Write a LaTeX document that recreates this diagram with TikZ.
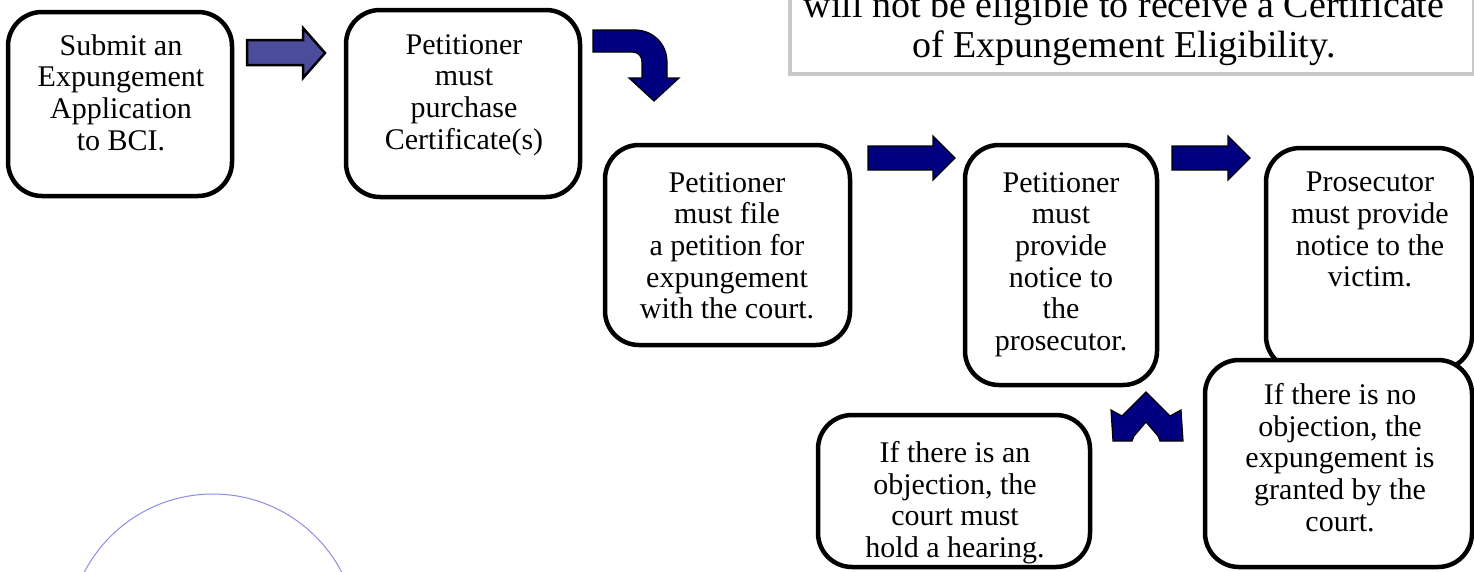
\documentclass[tikz,border=0pt]{standalone}
\usepackage{fontspec}
\setmainfont{Liberation Serif}
\definecolor{navyblk}{RGB}{0,0,128}
\definecolor{slateblk}{RGB}{76,76,156}
\definecolor{ringcol}{RGB}{140,140,232}
\definecolor{notegray}{RGB}{200,200,200}
\begin{document}
\begin{tikzpicture}[x=1pt,y=-1pt,
  stepbox/.style={draw=black, line width=4.5pt, rounded corners=34pt, fill=white, inner sep=0pt},
  notebox/.style={draw=notegray, line width=4pt, fill=white, inner sep=0pt},
  bodytext/.style={inner sep=0pt, align=center, anchor=north, font=\fontsize{30}{31.7}\selectfont},
  notetext/.style={inner sep=0pt, align=center, anchor=north, font=\fontsize{38}{40}\selectfont},
  blockA/.style={fill=slateblk, draw=black, line width=2.5pt, line join=miter},
  blockB/.style={fill=navyblk, draw=black, line width=1.2pt, line join=miter},
  ring/.style={draw=ringcol, line width=1pt}]
\useasboundingbox (0,0) rectangle (1474,571);
\clip (0,0) rectangle (1474,571);

% note box (top right)
\node[notebox, minimum width=684pt, minimum height=103pt] (note) at (1132,22.5) {};
\node[notetext] (tnote) at (1124,-9)
  {will not be eligible to receive a Certificate\\of Expungement Eligibility.};

% process boxes
\node[stepbox, minimum width=224pt, minimum height=184pt] (b1) at (120,104) {};
\node[bodytext] (t1) at (121,34) {Submit an\\Expungement\\Application\\to BCI.};
\node[stepbox, minimum width=234pt, minimum height=187pt] (b2) at (463,103.5) {};
\node[bodytext] (t2) at (464,34) {Petitioner\\must\\purchase\\Certificate(s)};
\node[stepbox, minimum width=245pt, minimum height=200pt] (b3) at (727.5,245) {};
\node[bodytext] (t3) at (727,172) {Petitioner\\must file\\a petition for\\expungement\\with the court.};
\node[stepbox, minimum width=192pt, minimum height=240pt] (b4) at (1061,265) {};
\node[bodytext] (t4) at (1061,172) {Petitioner\\must\\provide\\notice to\\the\\prosecutor.};
\node[stepbox, minimum width=206pt, minimum height=222pt] (b5) at (1369,259) {};
\node[bodytext] (t5) at (1370,172) {Prosecutor\\must provide\\notice to the\\victim.};
\node[stepbox, minimum width=272pt, minimum height=152pt] (b6) at (954,491) {};
\node[bodytext] (t6) at (955,441) {If there is an\\objection, the\\court must\\hold a hearing.};
\node[stepbox, minimum width=267pt, minimum height=207pt] (b7) at (1338.5,463.5) {};
\node[bodytext] (t7) at (1340,383) {If there is no\\objection, the\\expungement is\\granted by the\\court.};

% block arrows
\draw[blockA] (247,40) -- (303,40) -- (303,28) -- (325,53) -- (303,78) -- (303,65) -- (247,65) -- cycle;
\draw[blockB] (593,30) -- (635,30) .. controls (653,30) and (667,44) .. (667,62)
  -- (667,78) -- (679,78) -- (654,101) -- (629,78) -- (642,78) -- (642,62)
  .. controls (642,56) and (638,52) .. (632,52) -- (593,52) -- cycle;
\draw[blockB] (868,146) -- (933,146) -- (933,136) -- (955,158) -- (933,180) -- (933,170) -- (868,170) -- cycle;
\draw[blockB] (1172,146) -- (1228,146) -- (1228,136) -- (1250,158) -- (1228,180) -- (1228,170) -- (1172,170) -- cycle;
\draw[blockB] (1111,410) -- (1122,416) -- (1146,392) -- (1170,416) -- (1181,410) -- (1183,441)
  -- (1160,441) -- (1158,436) -- (1146,422) -- (1134,436) -- (1132,441) -- (1113,441) -- cycle;

% circle
\draw[ring] (213,639) circle[radius=145];
\end{tikzpicture}
\end{document}
